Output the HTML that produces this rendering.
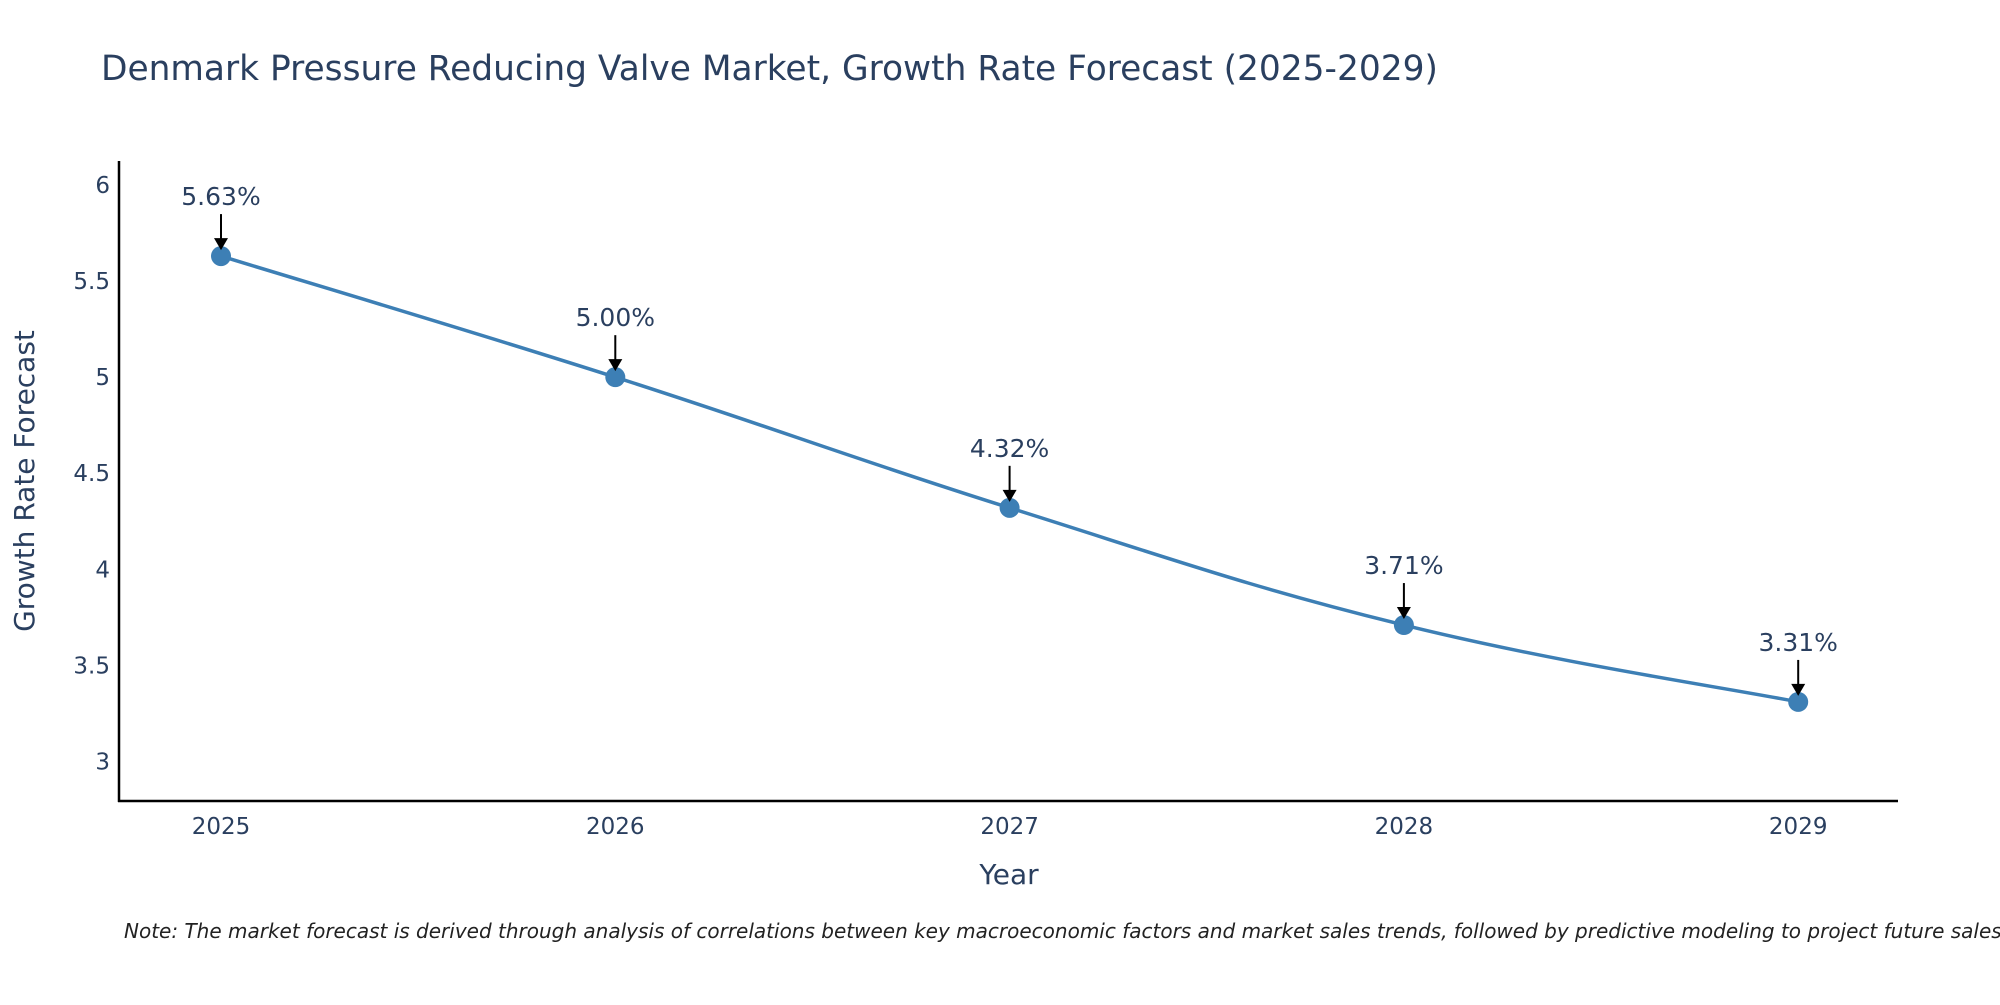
<!DOCTYPE html>
<html><head><meta charset="utf-8"><style>
body{margin:0;background:#fff;}
svg text{font-family:"DejaVu Sans","Liberation Sans",sans-serif;}
</style></head><body>
<svg id="chart" width="2000" height="1000" viewBox="0 0 2000 1000" xmlns="http://www.w3.org/2000/svg">
<rect width="2000" height="1000" fill="#fff"/>
<text x="101" y="80" font-size="34.4" fill="#2a3f5f">Denmark Pressure Reducing Valve Market, Growth Rate Forecast (2025-2029)</text>
<g id="yticks"></g><g id="xticks"></g>
<line x1="119" y1="161" x2="119" y2="802" stroke="#000" stroke-width="2.5"/>
<line x1="118" y1="801" x2="1898" y2="801" stroke="#000" stroke-width="2.5"/>
<text transform="translate(34,481) rotate(-90)" text-anchor="middle" font-size="28" fill="#2a3f5f">Growth Rate Forecast</text>
<text x="1009" y="884" text-anchor="middle" font-size="28" fill="#2a3f5f">Year</text>
<g id="series"></g>
<text x="124" y="938" font-size="20" font-style="italic" fill="#222">Note: The market forecast is derived through analysis of correlations between key macroeconomic factors and market sales trends, followed by predictive modeling to project future sales.</text>
</svg>
<script>
const years = [2025, 2026, 2027, 2028, 2029];
const values = [5.63, 5.00, 4.32, 3.71, 3.31];
const yTicks = [3, 3.5, 4, 4.5, 5, 5.5, 6];
const yTickLabels = ["3", "3.5", "4", "4.5", "5", "5.5", "6"];
const NS = "http://www.w3.org/2000/svg";
const xs = y => 221 + (y - 2025) * 394.3;
const ys = v => 761.5 - (v - 3) * 192.17;
function mk(tag, attrs, parent, txt) {
  const e = document.createElementNS(NS, tag);
  for (const k in attrs) e.setAttribute(k, attrs[k]);
  if (txt !== undefined) e.textContent = txt;
  parent.appendChild(e); return e;
}
const yg = document.getElementById('yticks');
yTicks.forEach((t, i) => {
  const e = mk('text', {x: 110, y: ys(t) + 8, 'text-anchor': 'end', 'font-size': 23, fill: '#2a3f5f'}, yg, yTickLabels[i]);
  
  
});
const xg = document.getElementById('xticks');
years.forEach(y => {
  const e = mk('text', {x: xs(y), y: 834, 'text-anchor': 'middle', 'font-size': 23, fill: '#2a3f5f'}, xg, String(y));
  
  
});
const sg = document.getElementById('series');
const pts = years.map((y, i) => [xs(y), ys(values[i])]);
let d = `M${pts[0][0]},${pts[0][1]}`;
const s = 0.2;
for (let i = 0; i < pts.length - 1; i++) {
  const p0 = pts[Math.max(0, i - 1)], p1 = pts[i], p2 = pts[i + 1], p3 = pts[Math.min(pts.length - 1, i + 2)];
  const c1 = [p1[0] + (p2[0] - p0[0]) * s, p1[1] + (p2[1] - p0[1]) * s];
  const c2 = [p2[0] - (p3[0] - p1[0]) * s, p2[1] - (p3[1] - p1[1]) * s];
  d += ` C${c1[0]},${c1[1]} ${c2[0]},${c2[1]} ${p2[0]},${p2[1]}`;
}
const line = mk('path', {d: d, fill: 'none', stroke: '#3d7fb5', 'stroke-width': 3.5}, sg);


pts.forEach((p, i) => {
  const c = mk('circle', {cx: p[0], cy: p[1], r: 10, fill: '#3d7fb5'}, sg);
  
  
  const a = mk('line', {x1: p[0], y1: p[1] - 42, x2: p[0], y2: p[1] - 16, stroke: '#000', 'stroke-width': 2}, sg);
  
  
  const h = mk('path', {d: `M${p[0]-7},${p[1]-18} L${p[0]+7},${p[1]-18} L${p[0]},${p[1]-6} Z`, fill: '#000'}, sg);
  
  
  const t = mk('text', {x: p[0], y: p[1] - 51, 'text-anchor': 'middle', 'font-size': 25, fill: '#2a3f5f'}, sg, values[i].toFixed(2) + '%');
  
  
});
</script>
</body></html>
